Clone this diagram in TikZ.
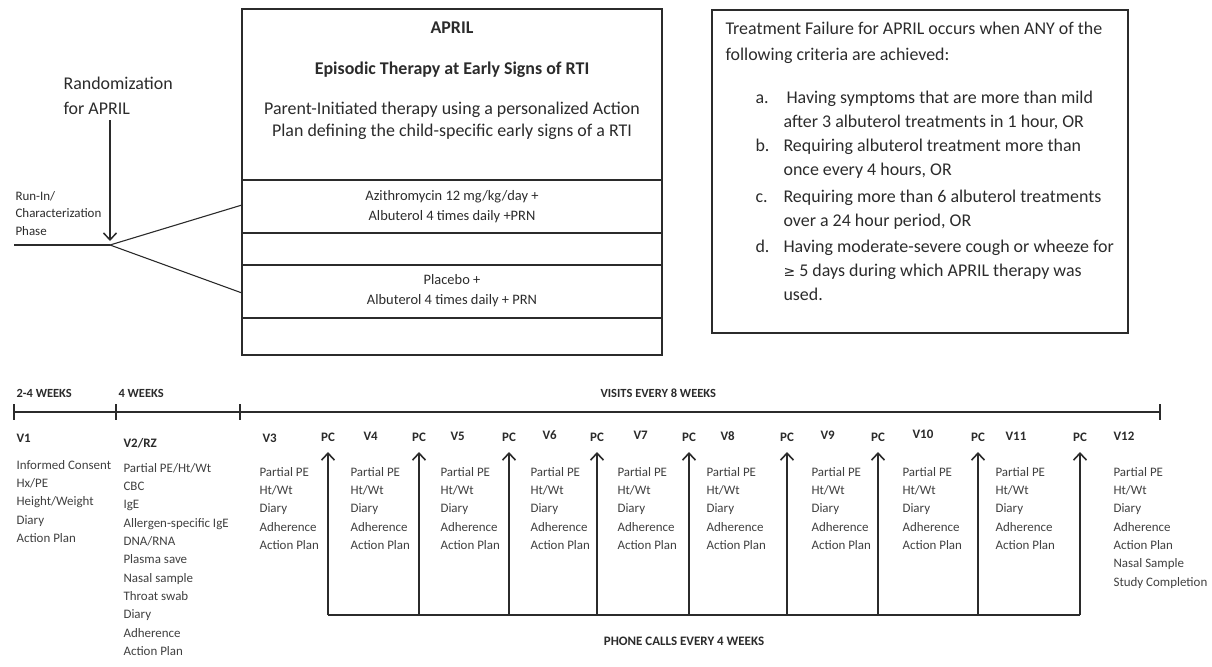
\documentclass[tikz,border=0pt]{standalone}
\usepackage{fontspec}
\setmainfont{Carlito}
\usepackage{xcolor}
\usetikzlibrary{arrows,arrows.meta,positioning}

\definecolor{ink}{HTML}{2B2B2B}

\tikzset{
	boxhead/.style={font=\fontsize{18}{22}\selectfont\bfseries, text=ink},
	boxtext/.style={font=\fontsize{18}{22}\selectfont, text=ink, align=center},
	armtext/.style={font=\fontsize{14.5}{20}\selectfont, text=ink, align=center},
	failtext/.style={font=\fontsize{18}{24.5}\selectfont, text=ink, align=left, anchor=north west, inner sep=0pt, execute at begin node=\strut},
	sidetext/.style={text=ink, align=left, anchor=north west, inner sep=0pt},
	period/.style={font=\fontsize{12.5}{14}\selectfont\bfseries, text=ink, anchor=west, inner sep=0pt},
	visit/.style={font=\fontsize{13}{15}\selectfont\bfseries, text=ink, anchor=west, inner sep=0pt},
	pc/.style={font=\fontsize{13}{15}\selectfont\bfseries, text=ink, inner sep=0pt},
	tasks/.style={font=\fontsize{13}{18.4}\selectfont, text=ink!90, align=left, anchor=north west, inner sep=0pt},
	timeline/.style={line width=1.6bp, draw=ink},
	call/.style={line width=1.6bp, draw=ink, ->},
}

\begin{document}
\begin{tikzpicture}[>={Straight Barb[length=7bp,width=13bp]}, line width=1.1bp]
	\useasboundingbox (0bp,0bp) rectangle (1212bp,-667bp);

	% randomization and the two arms
	\node (rand) at (63bp,-76.5bp) [sidetext, font=\fontsize{18}{25}\selectfont] {Randomization\\for APRIL};
	\node (runin) at (15bp,-190.5bp) [sidetext, font=\fontsize{13}{18}\selectfont] {Run-In/\\Characterization\\Phase};
	\coordinate (start) at (14bp,-245bp);
	\coordinate (split) at (110bp,-245bp);
	\coordinate (randtop) at (110bp,-120bp);
	\coordinate (armA) at (242bp,-205bp);
	\coordinate (armB) at (242bp,-293bp);
	\draw [ink] (start) -- (split);
	\draw [ink] (split) -- (armA);
	\draw [ink] (split) -- (armB);
	\draw [ink, ->, line width=1.5bp, shorten >=4bp] (randtop) -- (split);

	\draw [ink] (242bp,-9bp) rectangle (662bp,-355bp);
	\foreach \y in {180,233,265,318}
		\draw [ink] (242bp,-\y bp) -- (662bp,-\y bp);
	\node (april) at (452bp,-28bp) [boxhead] {APRIL};
	\node (episodic) at (452bp,-70bp) [boxhead] {Episodic Therapy at Early Signs of RTI};
	\node (parent) at (452bp,-121bp) [boxtext] {Parent-Initiated therapy using a personalized Action\\Plan defining the child-specific early signs of a RTI};
	\node (azi) at (452bp,-207bp) [armtext] {Azithromycin 12 mg/kg/day +\\Albuterol 4 times daily +PRN};
	\node (placebo) at (452bp,-291bp) [armtext] {Placebo +\\Albuterol 4 times daily + PRN};

	% treatment failure
	\draw [ink] (712bp,-10bp) rectangle (1128bp,-333bp);
	\node (failhead) at (725bp,-21bp) [failtext, font=\fontsize{18}{27}\selectfont] {Treatment Failure for APRIL occurs when ANY of the\\following criteria are achieved:};
	\node (crita) at (755bp,-86bp) [failtext] {a.};
	\node (critb) at (755bp,-134bp) [failtext] {b.};
	\node (critc) at (755bp,-185bp) [failtext] {c.};
	\node (critd) at (755bp,-235bp) [failtext] {d.};
	\node (texta) at (783bp,-90bp) [failtext] {\,Having symptoms that are more than mild\\after 3 albuterol treatments in 1 hour, OR};
	\node (textb) at (783bp,-138bp) [failtext] {Requiring albuterol treatment more than\\once every 4 hours, OR};
	\node (textc) at (783bp,-189bp) [failtext] {Requiring more than 6 albuterol treatments\\over a 24 hour period, OR};
	\node (textd) at (783bp,-239bp) [failtext] {Having moderate-severe cough or wheeze for\\{\fontspec{DejaVu Sans}\fontsize{14}{24.5}\selectfont ≥} 5 days during which APRIL therapy was\\used.};

	% timeline
	\draw [timeline] (14bp,-412bp) -- (1160bp,-412bp);
	\foreach \x in {14,116,240,1160}
		\draw [timeline] (\x bp,-404bp) -- (\x bp,-420bp);
	\node (wkA) at (16bp,-393bp) [period] {2-4 WEEKS};
	\node (wkB) at (118bp,-393bp) [period] {4 WEEKS};
	\node (wkC) at (600bp,-393bp) [period] {VISITS EVERY 8 WEEKS};

	\node (v1) at (16bp,-438bp) [visit] {V1};
	\node (v2) at (123bp,-443bp) [visit] {V2/RZ};
	\node (v3) at (262bp,-438bp) [visit] {V3};
	\node (v4) at (363bp,-436bp) [visit] {V4};
	\node (v5) at (450bp,-436bp) [visit] {V5};
	\node (v6) at (542bp,-435bp) [visit] {V6};
	\node (v7) at (633bp,-435bp) [visit] {V7};
	\node (v8) at (720bp,-436bp) [visit] {V8};
	\node (v9) at (820bp,-435bp) [visit] {V9};
	\node (v10) at (912bp,-434bp) [visit] {V10};
	\node (v11) at (1005bp,-436bp) [visit] {V11};
	\node (v12) at (1113bp,-436bp) [visit] {V12};

	\node (t1) at (16bp,-459.5bp) [tasks] {Informed Consent\\Hx/PE\\Height/Weight\\Diary\\Action Plan};
	\node (t2) at (123bp,-462.5bp) [tasks] {Partial PE/Ht/Wt\\CBC\\IgE\\Allergen-specific IgE\\DNA/RNA\\Plasma save\\Nasal sample\\Throat swab\\Diary\\Adherence\\Action Plan};
	\foreach \n/\x in {3/259,4/350,5/440,6/530,7/617,8/706,9/811,10/902,11/995}
		\node (t\n) at (\x bp,-466.5bp) [tasks] {Partial PE\\Ht/Wt\\Diary\\Adherence\\Action Plan};
	\node (t12) at (1113bp,-466.5bp) [tasks] {Partial PE\\Ht/Wt\\Diary\\Adherence\\Action Plan\\Nasal Sample\\Study Completion};

	% phone calls
	\foreach \i/\x in {1/328,2/419,3/509,4/597,5/689,6/787,7/878,8/978,9/1080} {
		\coordinate (pcbase\i) at (\x bp,-615bp);
		\coordinate (pctip\i) at (\x bp,-452bp);
		\node (pc\i) at (\x bp,-437bp) [pc] {PC};
		\draw [call] (pcbase\i) -- (pctip\i);
	}
	\draw [timeline] (pcbase1) -- (pcbase9);
	\node (phone) at (684bp,-641bp) [pc] {PHONE CALLS EVERY 4 WEEKS};

\end{tikzpicture}
\end{document}
